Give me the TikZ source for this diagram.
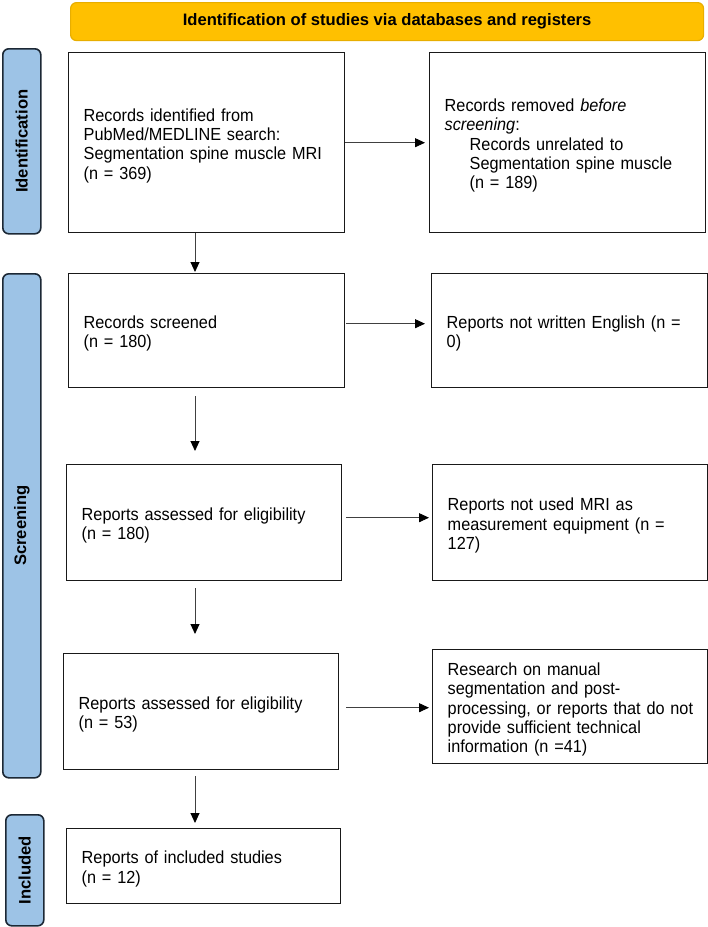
\documentclass[tikz,border=0pt]{standalone}
\usepackage{fontspec}
\setmainfont{Liberation Sans}[FakeStretch=0.93]
\newfontfamily\hbold{Liberation Sans}
\usetikzlibrary{arrows.meta}
\definecolor{gold}{HTML}{FFC000}
\definecolor{goldline}{HTML}{E8AE00}
\definecolor{sideblue}{HTML}{9DC3E6}
\definecolor{sideline}{HTML}{1C2835}
\definecolor{arrgray}{HTML}{404040}
\begin{document}
\begin{tikzpicture}[x=1pt,y=-1pt,
  every node/.style={font=\fontsize{17.5}{19.4}\selectfont},
  box/.style={draw=black!90, line width=1.4pt, anchor=north west, align=left,
    inner xsep=15pt, inner ysep=0pt,
    execute at begin node={\leavevmode\vrule width 0pt height 18.5pt depth 0pt}},
  side/.style={draw=sideline, fill=sideblue, line width=1.6pt, rounded corners=6pt,
    anchor=north west, inner sep=0pt},
  sidetext/.style={font=\hbold\bfseries\fontsize{16.6}{19}\selectfont, rotate=90},
  arr/.style={draw=arrgray, line width=0.9pt, -{Triangle[length=10pt,width=9pt,color=black]}}
]
\useasboundingbox (0,0) rectangle (708,927);

% banner
\node[draw=goldline, fill=gold, line width=1.2pt, rounded corners=6pt, anchor=north west,
  minimum width=633pt, minimum height=38pt, inner sep=0pt,
  font=\hbold\bfseries\fontsize{16.6}{19}\selectfont] (banner) at (70,2)
  {Identification of studies via databases and registers};

% side labels
\node[side, minimum width=38pt, minimum height=185pt] (sid1) at (2,48) {};
\node[sidetext] at (sid1.center) {Identification};
\node[side, minimum width=38pt, minimum height=504pt] (sid2) at (2,273) {};
\node[sidetext] at (sid2.center) {Screening};
\node[side, minimum width=38pt, minimum height=111pt] (sid3) at (5,814) {};
\node[sidetext] at (sid3.center) {Included};

% boxes
\node[box, text width=246pt, minimum width=276pt, minimum height=180pt] (b1) at (68,52)
  {Records identified from\\PubMed/MEDLINE search:\\Segmentation spine muscle MRI\\(n = 369)};
\node[box, text width=246pt, minimum width=276pt, minimum height=180pt] (r1) at (429,52)
  {Records removed \textit{before}\\\textit{screening}:\\\hspace*{25pt}Records unrelated to\\\hspace*{25pt}Segmentation spine muscle\\\hspace*{25pt}(n = 189)};

\node[box, text width=246pt, minimum width=276pt, minimum height=114pt] (b2) at (68,273)
  {Records screened\\(n = 180)};
\node[box, text width=246pt, minimum width=276pt, minimum height=114pt] (r2) at (431,273)
  {\mbox{Reports not written English (n =}\\0)};

\node[box, text width=245pt, minimum width=275pt, minimum height=116pt] (b3) at (66,464)
  {Reports assessed for eligibility\\(n = 180)};
\node[box, text width=245pt, minimum width=275pt, minimum height=116pt] (r3) at (432,464)
  {Reports not used MRI as\\\mbox{measurement equipment (n =}\\127)};

\node[box, text width=245pt, minimum width=275pt, minimum height=116pt] (b4) at (63,653)
  {Reports assessed for eligibility\\(n = 53)};
\node[box, text width=245pt, minimum width=275pt, minimum height=114pt] (r4) at (432,649)
  {Research on manual\\segmentation and post-\\\mbox{processing, or reports that do not}\\provide sufficient technical\\information (n =41)};

\node[box, text width=244pt, minimum width=274pt, minimum height=75pt] (b5) at (66,828)
  {Reports of included studies\\(n = 12)};

% connectors
\coordinate (ax) at (195,0);
\draw[arr, shorten >=4pt] (b1.east) -- (b1.east -| r1.west);
\draw[arr, shorten <=1pt, shorten >=6pt] ([yshift=7pt]b2.east) -- ([yshift=7pt]b2.east -| r2.west);
\draw[arr, shorten <=4pt, shorten >=3pt] ([yshift=5pt]b3.east) -- ([yshift=5pt]b3.east -| r3.west);
\draw[arr, shorten <=7pt, shorten >=3pt] ([yshift=4pt]b4.east) -- ([yshift=4pt]b4.east -| r4.west);

\draw[arr, shorten >=1pt] (b1.south -| ax) -- (b2.north -| ax);
\draw[arr, shorten <=8pt, shorten >=13pt] (b2.south -| ax) -- (b3.north -| ax);
\draw[arr, shorten <=7pt, shorten >=19pt] (b3.south -| ax) -- (b4.north -| ax);
\draw[arr, shorten <=6pt, shorten >=5pt] (b4.south -| ax) -- (b5.north -| ax);
\end{tikzpicture}
\end{document}
